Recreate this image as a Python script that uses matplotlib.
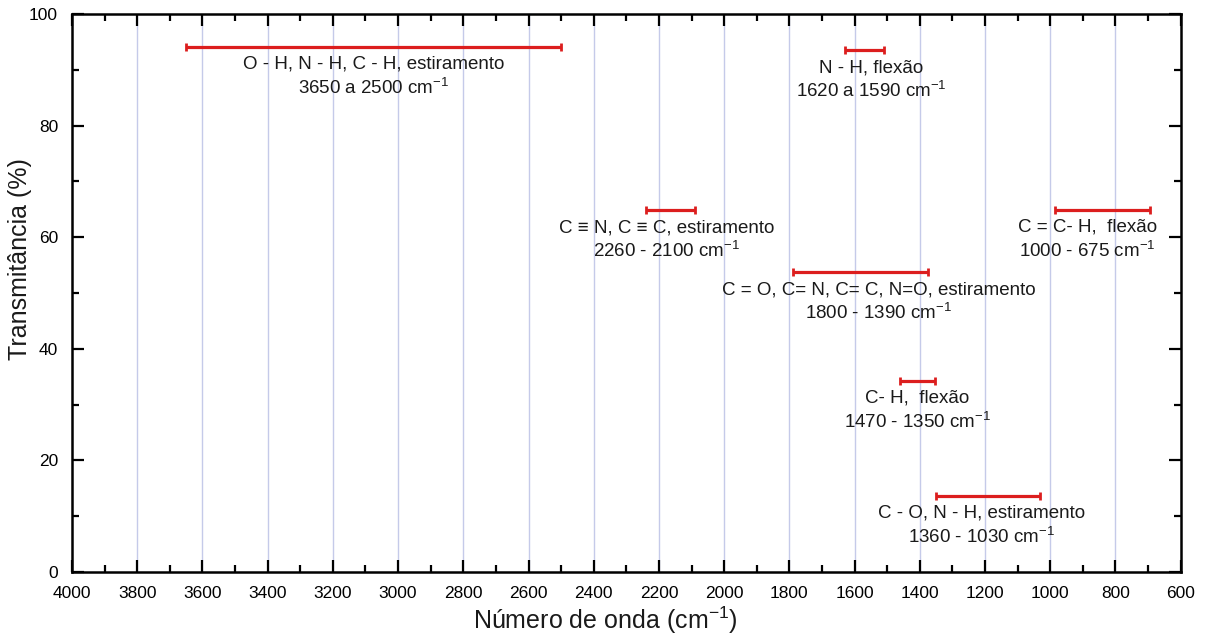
import matplotlib
matplotlib.use("Agg")
import matplotlib.pyplot as plt
from matplotlib.ticker import MultipleLocator
import numpy as np

plt.rcParams['font.family'] = ['Liberation Sans', 'DejaVu Sans']
plt.rcParams['mathtext.fontset'] = 'custom'
plt.rcParams['mathtext.rm'] = 'Liberation Sans'
plt.rcParams['mathtext.default'] = 'regular'

# ---- data ----
group_labels = [
    "O - H, N - H, C - H, estiramento",
    "N - H, flexão",
    "C ≡ N, C ≡ C, estiramento",
    "C = O, C= N, C= C, N=O, estiramento",
    "C = C- H,  flexão",
    "C- H,  flexão",
    "C - O, N - H, estiramento",
]
range_labels = [
    "3650 a 2500 cm$^{-1}$",
    "1620 a 1590 cm$^{-1}$",
    "2260 - 2100 cm$^{-1}$",
    "1800 - 1390 cm$^{-1}$",
    "1000 - 675 cm$^{-1}$",
    "1470 - 1350 cm$^{-1}$",
    "1360 - 1030 cm$^{-1}$",
]
band_start = [3650, 1630, 2240, 1790, 985, 1460, 1350]
band_end = [2500, 1510, 2090, 1375, 695, 1355, 1030]
band_level = [94.1, 93.5, 64.8, 53.7, 64.9, 34.3, 13.7]

x_ticks = list(range(4000, 599, -200))
y_ticks = [0, 20, 40, 60, 80, 100]

# text horizontal nudges (points)
text_dx = [0, 5, -3, 13, -11, 0, -5]

RED = '#dc1e1e'
GRID = '#c5cae9'

fig = plt.figure(figsize=(12.08, 6.36), dpi=100)
ax = fig.add_axes([0.0596, 0.1006, 0.9178, 0.8774])

ax.set_xlim(4000, 600)
ax.set_ylim(0, 100)

for xv in x_ticks[1:-1]:
    ax.axvline(xv, color=GRID, lw=1.0, zorder=0)

starts = np.array(band_start, dtype=float)
ends = np.array(band_end, dtype=float)
centers = (starts + ends) / 2
half = np.abs(starts - ends) / 2
ax.errorbar(centers, band_level, xerr=half, fmt='none', ecolor=RED,
            elinewidth=2.3, capsize=2.6, capthick=2.0, zorder=3)

for c, y, t1, t2, dx in zip(centers, band_level, group_labels, range_labels, text_dx):
    ax.annotate(t1, xy=(c, y), xytext=(dx, -12.5), textcoords='offset points',
                ha='center', va='center', fontsize=13.5, color='#1a1a1a')
    ax.annotate(t2, xy=(c, y), xytext=(dx, -29.5), textcoords='offset points',
                ha='center', va='center', fontsize=13.5, color='#1a1a1a')

ax.xaxis.set_major_locator(MultipleLocator(200))
ax.xaxis.set_minor_locator(MultipleLocator(100))
ax.yaxis.set_major_locator(MultipleLocator(20))
ax.yaxis.set_minor_locator(MultipleLocator(10))
ax.set_xticks(x_ticks)
ax.set_yticks(y_ticks)

ax.tick_params(which='both', direction='in', top=True, right=True,
               labeltop=False, labelright=False, width=1.6, color='black')
ax.tick_params(which='major', length=8.5, labelsize=12.5, pad=10)
ax.tick_params(which='minor', length=5)

for s in ax.spines.values():
    s.set_linewidth(1.8)

ax.set_xlabel("Número de onda (cm$^{-1}$)", fontsize=18, color='#1a1a1a')
ax.set_ylabel("Transmitância (%)", fontsize=18, color='#1a1a1a')
ax.xaxis.label.set_va('center')
ax.yaxis.label.set_va('center')
ax.xaxis.set_label_coords(0.481, -0.086)
ax.yaxis.set_label_coords(-0.047, 0.56)

fig.savefig("out.png", dpi=100)
